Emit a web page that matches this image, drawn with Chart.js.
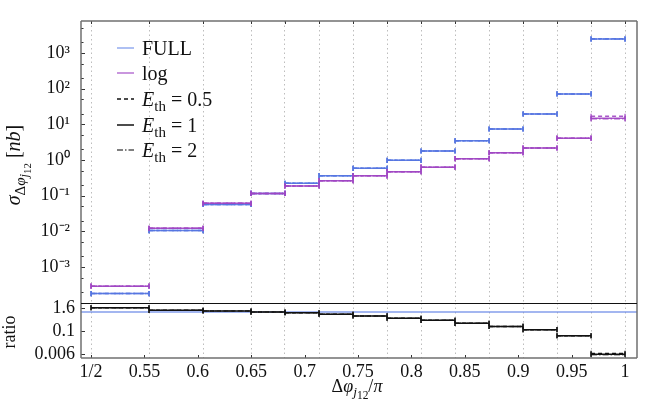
<!DOCTYPE html>
<html lang="en">
<head>
<meta charset="UTF-8">
<title>dphi j12</title>
<style>
    body { margin: 0; background: #fff; }
    #wrap { position: relative; width: 664px; height: 399px; overflow: hidden; font-family: "Liberation Serif", serif; color: #111; }
    canvas { position: absolute; left: 0; }
    .txt { position: absolute; white-space: nowrap; line-height: 18px; font-size: 18px; }
    sub { font-size: 75%; vertical-align: -0.3em; line-height: 0; }
    sub sub { font-size: 85%; }
    .rot { transform: translate(-50%, -50%) rotate(-90deg); }
    .row { position: absolute; left: 117px; height: 26px; display: flex; align-items: center; font-size: 20px; white-space: nowrap; }
    .row svg { margin-right: 8px; }
</style>
</head>
<body>
<div id="wrap">
    <canvas id="top" width="664" height="303" style="top:0"></canvas>
    <canvas id="bot" width="664" height="109" style="top:290px"></canvas>

    <div class="txt rot" style="left:16px; top:165px; font-size:20px;"><i>σ</i><sub>Δ<i>φ</i><sub><i>j</i><sub>12</sub></sub></sub> [<i>nb</i>]</div>
    <div class="txt rot" style="left:9px; top:332px;">ratio</div>
    <div class="txt" style="left:357px; top:377px; transform: translateX(-50%);">Δ<i>φ</i><sub><i>j</i><sub>12</sub></sub>/<i>π</i></div>
    <div id="legend"></div>
</div>

<script src="https://cdn.jsdelivr.net/npm/chart.js"></script>
<script>
    // bin edges in dphi/pi
    const binEdges = [0.5, 0.5543, 0.6049, 0.6498, 0.6816, 0.7135, 0.7453, 0.7772, 0.809, 0.8408, 0.8727, 0.9045, 0.9363, 0.9682, 1.0];

    // cross sections [nb]
    const fullE05 = [1.8e-4, 0.0105, 0.057, 0.116, 0.222, 0.363, 0.585, 0.98, 1.79, 3.47, 7.4, 19.5, 71, 2490];
    const fullE1  = [1.8e-4, 0.0105, 0.057, 0.116, 0.222, 0.363, 0.585, 0.98, 1.79, 3.47, 7.4, 19.5, 71, 2470];
    const fullE2  = [1.8e-4, 0.0105, 0.057, 0.116, 0.222, 0.363, 0.585, 0.98, 1.79, 3.47, 7.4, 19.5, 71, 2450];
    const logE05  = [2.9e-4, 0.0122, 0.061, 0.116, 0.187, 0.263, 0.36, 0.47, 0.63, 1.09, 1.6, 2.17, 4.1, 16.8];
    const logE1   = [2.9e-4, 0.0122, 0.061, 0.116, 0.187, 0.263, 0.36, 0.47, 0.63, 1.09, 1.6, 2.17, 4.1, 14.8];
    const logE2   = [2.9e-4, 0.0122, 0.061, 0.116, 0.187, 0.263, 0.36, 0.47, 0.63, 1.09, 1.6, 2.17, 4.1, 14.3];

    // log / FULL
    const ratioE05 = [1.65, 1.21, 1.11, 0.98, 0.90, 0.75, 0.61, 0.46, 0.36, 0.25, 0.17, 0.115, 0.055, 0.0064];
    const ratioE1  = [1.65, 1.21, 1.11, 0.98, 0.90, 0.75, 0.61, 0.46, 0.36, 0.25, 0.17, 0.115, 0.055, 0.0058];
    const ratioE2  = [1.65, 1.21, 1.11, 0.98, 0.90, 0.75, 0.61, 0.46, 0.36, 0.25, 0.17, 0.115, 0.055, 0.0055];
    const ratioRef = 1;

    // axes
    const xMin = 0.4906, xMax = 1.0112;
    const xTickValues = [0.5, 0.55, 0.6, 0.65, 0.7, 0.75, 0.8, 0.85, 0.9, 0.95, 1];
    const xTickLabels = ['1/2', '0.55', '0.6', '0.65', '0.7', '0.75', '0.8', '0.85', '0.9', '0.95', '1'];
    const yMin = 9.8e-5, yMax = 7890;
    const yTickValues = [1e-3, 1e-2, 1e-1, 1, 10, 100, 1000];
    const yTickLabels = ['10⁻³', '10⁻²', '10⁻¹', '10⁰', '10¹', '10²', '10³'];
    const rMin = 0.00369, rMax = 2.94;
    const rTickValues = [0.006, 0.1, 1.6];
    const rTickLabels = ['0.006', '0.1', '1.6'];

    const BLUE = 'rgba(85,118,225,0.9)';
    const PURPLE = 'rgba(160,70,195,0.9)';
    const FONT = { family: 'Liberation Serif', size: 18 };
    const DASH05 = [4, 3];
    const DASH2 = [6, 2, 1.5, 2];

    const legendItems = [
        { html: 'FULL', color: 'rgba(120,150,235,0.8)', dash: [] },
        { html: 'log', color: 'rgba(165,80,200,0.8)', dash: [] },
        { html: '<i>E</i><sub>th</sub> = 0.5', color: '#111', dash: DASH05 },
        { html: '<i>E</i><sub>th</sub> = 1', color: '#111', dash: [] },
        { html: '<i>E</i><sub>th</sub> = 2', color: '#555', dash: DASH2 }
    ];
    const legendRowY = [48, 73, 99, 125, 150];

    // one horizontal segment per bin, broken with null
    function stepData(vals) {
        var out = [];
        vals.forEach((v, i) => {
            out.push({ x: binEdges[i], y: v }, { x: binEdges[i + 1], y: v }, { x: binEdges[i + 1], y: null });
        });
        return out;
    }

    function binSet(vals, color, dash, order) {
        return {
            data: stepData(vals),
            borderColor: color,
            borderWidth: 1.5,
            borderDash: dash,
            pointStyle: 'line',
            rotation: 90,
            pointRadius: 2.6,
            pointBorderWidth: 1.3,
            pointBorderColor: color,
            spanGaps: false,
            order: order
        };
    }

    // frame, inner ticks, separator (separator drawn by the ratio panel only)
    const framePlugin = {
        id: 'frame',
        afterDraw(chart, args, opts) {
            const ctx = chart.ctx, a = chart.chartArea;
            const ys = chart.scales.y, xs = chart.scales.x;
            ctx.save();
            ctx.strokeStyle = '#333';
            ctx.lineWidth = 1;
            ctx.beginPath();
            (opts.yMajor || []).forEach(v => {
                const y = Math.round(ys.getPixelForValue(v)) + 0.5;
                ctx.moveTo(a.left, y); ctx.lineTo(a.left + 4, y);
            });
            if (opts.yMinor) {
                opts.yMajor.forEach(v => {
                    [2, 5, 0.2, 0.5].forEach(m => {
                        const val = v * m;
                        if (val > ys.min && val < ys.max) {
                            const y = Math.round(ys.getPixelForValue(val)) + 0.5;
                            ctx.moveTo(a.left, y); ctx.lineTo(a.left + 2.5, y);
                        }
                    });
                });
            }
            (opts.topTicks || []).forEach(v => {
                const x = Math.round(xs.getPixelForValue(v)) + 0.5;
                ctx.moveTo(x, a.top); ctx.lineTo(x, a.top + 3);
            });
            (opts.bottomTicks || []).forEach(v => {
                const x = Math.round(xs.getPixelForValue(v)) + 0.5;
                ctx.moveTo(x, a.bottom); ctx.lineTo(x, a.bottom - 3);
            });
            ctx.stroke();

            ctx.strokeStyle = '#707070';
            ctx.lineWidth = 1.5;
            ctx.beginPath();
            ctx.moveTo(a.left, a.top); ctx.lineTo(a.left, a.bottom);
            ctx.moveTo(a.right, a.top); ctx.lineTo(a.right, a.bottom);
            if (opts.sepTop) {
                ctx.moveTo(a.left, a.bottom); ctx.lineTo(a.right, a.bottom);
            } else {
                ctx.moveTo(a.left, a.top); ctx.lineTo(a.right, a.top);
            }
            ctx.stroke();
            if (opts.sepTop) {
                ctx.strokeStyle = '#111';
                ctx.lineWidth = 1;
                ctx.beginPath();
                ctx.moveTo(a.left, a.top + 0.5); ctx.lineTo(a.right, a.top + 0.5);
                ctx.stroke();
            }
            ctx.restore();
        }
    };

    // keep the axis from pushing the plot area in for end labels
    function fixY(s) {
        s.width = 81;
        s.paddingTop = 0;
        s.paddingBottom = 0;
    }

    const gridX = {
        type: 'linear', min: xMin, max: xMax,
        afterBuildTicks: s => { s.ticks = binEdges.map(v => ({ value: v })); },
        ticks: { display: false },
        grid: { color: '#bdbdbd', lineWidth: 1, drawTicks: false },
        border: { display: false, dash: [1.5, 3] },
        afterFit: s => { s.height = 0; s.paddingLeft = 0; s.paddingRight = 0; }
    };

    new Chart(document.getElementById('top'), {
        type: 'line',
        data: {
            datasets: [
                binSet(fullE05, BLUE, DASH05, 3),
                binSet(fullE2, BLUE, DASH2, 3),
                binSet(fullE1, BLUE, [], 2),
                binSet(logE05, PURPLE, DASH05, 1),
                binSet(logE2, PURPLE, DASH2, 1),
                binSet(logE1, PURPLE, [], 0)
            ]
        },
        options: {
            responsive: false,
            animation: false,
            devicePixelRatio: 1,
            layout: { autoPadding: false, padding: { top: 21, right: 27, left: 0, bottom: 0 } },
            plugins: {
                legend: { display: false },
                tooltip: { enabled: false },
                frame: { yMajor: yTickValues, yMinor: true, topTicks: binEdges }
            },
            scales: {
                x: gridX,
                y: {
                    type: 'logarithmic', min: yMin, max: yMax,
                    afterBuildTicks: s => { s.ticks = yTickValues.map(v => ({ value: v })); },
                    ticks: { callback: (v, i) => yTickLabels[i], font: FONT, color: '#111', padding: 11, autoSkip: false },
                    grid: { display: false, drawTicks: false },
                    border: { display: false },
                    afterFit: fixY
                }
            }
        },
        plugins: [framePlugin]
    });

    new Chart(document.getElementById('bot'), {
        type: 'line',
        data: {
            datasets: [
                {
                    data: [{ x: xMin, y: ratioRef }, { x: xMax, y: ratioRef }],
                    borderColor: 'rgba(110,140,230,0.85)', borderWidth: 1.5, pointRadius: 0, order: 5
                },
                binSet(ratioE05, '#111', DASH05, 2),
                binSet(ratioE2, '#666', DASH2, 1),
                binSet(ratioE1, '#111', [], 0)
            ]
        },
        options: {
            responsive: false,
            animation: false,
            devicePixelRatio: 1,
            layout: { autoPadding: false, padding: { top: 13, right: 27, left: 0, bottom: 0 } },
            plugins: {
                legend: { display: false },
                tooltip: { enabled: false },
                frame: { yMajor: rTickValues, bottomTicks: xTickValues, sepTop: true }
            },
            scales: {
                x: {
                    type: 'linear', min: xMin, max: xMax, position: 'bottom',
                    afterBuildTicks: s => { s.ticks = xTickValues.map(v => ({ value: v })); },
                    ticks: { callback: (v, i) => xTickLabels[i], font: FONT, color: '#111', padding: 3, autoSkip: false, maxRotation: 0 },
                    grid: { display: false, drawTicks: false },
                    border: { display: false },
                    afterFit: s => { s.height = 41; s.paddingLeft = 0; s.paddingRight = 0; }
                },
                xg: Object.assign({}, gridX, { position: 'top' }),
                y: {
                    type: 'logarithmic', min: rMin, max: rMax,
                    afterBuildTicks: s => { s.ticks = rTickValues.map(v => ({ value: v })); },
                    ticks: { callback: (v, i) => rTickLabels[i], font: FONT, color: '#111', padding: 6, autoSkip: false },
                    grid: { display: false, drawTicks: false },
                    border: { display: false },
                    afterFit: fixY
                }
            }
        },
        plugins: [framePlugin]
    });

    // legend inside the top panel
    var leg = document.getElementById('legend');
    legendItems.forEach((it, i) => {
        var row = document.createElement('div');
        row.className = 'row';
        row.style.top = (legendRowY[i] - 13) + 'px';
        row.innerHTML = '<svg width="17" height="6"><line x1="0" y1="3" x2="17" y2="3" stroke="' + it.color +
            '" stroke-width="1.5" stroke-dasharray="' + it.dash.join(' ') + '"/></svg><span>' + it.html + '</span>';
        leg.appendChild(row);
    });
</script>
</body>
</html>
